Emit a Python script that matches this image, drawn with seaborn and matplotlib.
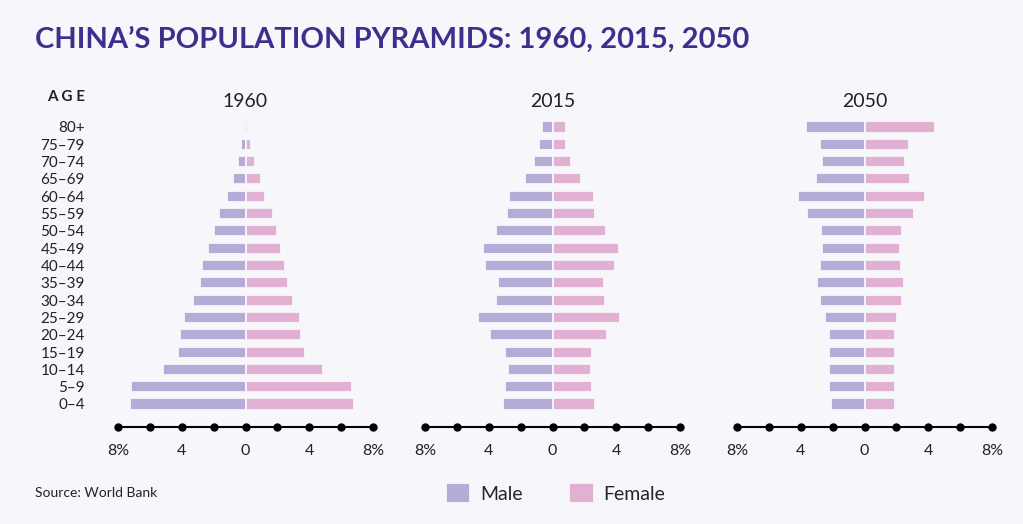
import seaborn as sns
import matplotlib.pyplot as plt
import pandas as pd

# ------------------------------
# data (percent of population)
# ------------------------------
ages = ["80+", "75–79", "70–74", "65–69", "60–64", "55–59", "50–54", "45–49",
        "40–44", "35–39", "30–34", "25–29", "20–24", "15–19", "10–14", "5–9", "0–4"]
years = ["1960", "2015", "2050"]

male_1960 = [0.1, 0.3, 0.5, 0.8, 1.15, 1.65, 1.95, 2.35, 2.7, 2.85, 3.3, 3.85, 4.1, 4.25, 5.2, 7.2, 7.25]
female_1960 = [0.15, 0.35, 0.6, 1.0, 1.25, 1.75, 1.95, 2.2, 2.5, 2.65, 2.95, 3.4, 3.5, 3.75, 4.85, 6.7, 6.8]
male_2015 = [0.65, 0.85, 1.15, 1.75, 2.75, 2.85, 3.55, 4.35, 4.25, 3.4, 3.55, 4.65, 3.9, 2.95, 2.8, 2.95, 3.1]
female_2015 = [0.85, 0.85, 1.15, 1.8, 2.6, 2.65, 3.35, 4.15, 3.95, 3.2, 3.3, 4.25, 3.4, 2.5, 2.4, 2.45, 2.65]
male_2050 = [3.7, 2.8, 2.65, 3.05, 4.2, 3.6, 2.7, 2.65, 2.8, 3.0, 2.8, 2.45, 2.2, 2.2, 2.2, 2.2, 2.1]
female_2050 = [4.4, 2.8, 2.55, 2.85, 3.8, 3.1, 2.35, 2.2, 2.3, 2.45, 2.35, 2.05, 1.9, 1.9, 1.9, 1.9, 1.9]

male = {"1960": male_1960, "2015": male_2015, "2050": male_2050}
female = {"1960": female_1960, "2015": female_2015, "2050": female_2050}

tick_vals = [-8, -4, 0, 4, 8]
tick_labels = ["8%", "4", "0", "4", "8%"]
dot_vals = [-8, -6, -4, -2, 0, 2, 4, 6, 8]

# ------------------------------
# style
# ------------------------------
bg = "#f7f6fa"
male_col = "#b4acd6"
female_col = "#e1b0d2"
title_col = "#3f2e8c"
text_col = "#222222"

sns.set_style("white")
plt.rcParams["font.family"] = ["Lato", "DejaVu Sans"]

fig = plt.figure(figsize=(10.23, 5.24), dpi=100, facecolor=bg)

lefts = [118 / 1023, 425 / 1023, 737 / 1023]
width = 255 / 1023
bottom = (524 - 427) / 524
height = 310.4 / 524

axes = []
for i, yr in enumerate(years):
    ax = fig.add_axes([lefts[i], bottom, width, height])
    ax.set_facecolor(bg)
    df = pd.DataFrame({
        "Age": ages * 2,
        "Sex": ["Male"] * len(ages) + ["Female"] * len(ages),
        "Pct": [-v for v in male[yr]] + list(female[yr]),
    })
    sns.barplot(data=df, x="Pct", y="Age", hue="Sex", order=ages,
                hue_order=["Male", "Female"], palette=[male_col, female_col],
                dodge=False, width=0.64, orient="h", edgecolor=bg, linewidth=1.3,
                ax=ax, saturation=1)
    ax.set_xlim(-8, 8)
    ax.set_ylim(17.33, -0.6)
    for s in ["top", "right", "left"]:
        ax.spines[s].set_visible(False)
    ax.spines["bottom"].set_color("black")
    ax.spines["bottom"].set_linewidth(1.5)
    ax.plot(dot_vals, [0] * len(dot_vals), "o", color="black", markersize=5,
            transform=ax.get_xaxis_transform(), clip_on=False, zorder=5)
    ax.set_xticks(tick_vals)
    ax.set_xticklabels(tick_labels, fontsize=11.5, color=text_col)
    ax.tick_params(axis="x", length=0, pad=12)
    ax.set_xlabel("")
    ax.set_ylabel("")
    ax.set_title(yr, fontsize=14, color=text_col, pad=7)
    if i == 0:
        ax.tick_params(axis="y", length=0, pad=24)
        for t in ax.get_yticklabels():
            t.set_fontsize(11)
            t.set_color(text_col)
    else:
        ax.set_yticks([])
    ax.get_legend().remove()
    axes.append(ax)

handles, labels = axes[0].get_legend_handles_labels()
fig.legend(handles, labels, loc="center", bbox_to_anchor=(0.543, 1 - 493 / 524),
           ncol=2, frameon=False, fontsize=14, handlelength=1.25, handleheight=1.25,
           columnspacing=2.4, handletextpad=0.5)

fig.text(35 / 1023, 1 - 40 / 524, "CHINA’S POPULATION PYRAMIDS: 1960, 2015, 2050",
         fontsize=21, fontweight="bold", color=title_col, va="center", ha="left")
fig.text(85 / 1023, 1 - 97 / 524, "A G E", fontsize=11, fontweight="bold",
         color=text_col, va="center", ha="right")
fig.text(35 / 1023, 1 - 493 / 524, "Source: World Bank", fontsize=10,
         color=text_col, va="center", ha="left")

fig.savefig("out.png", dpi=100, facecolor=bg)
plt.close()
